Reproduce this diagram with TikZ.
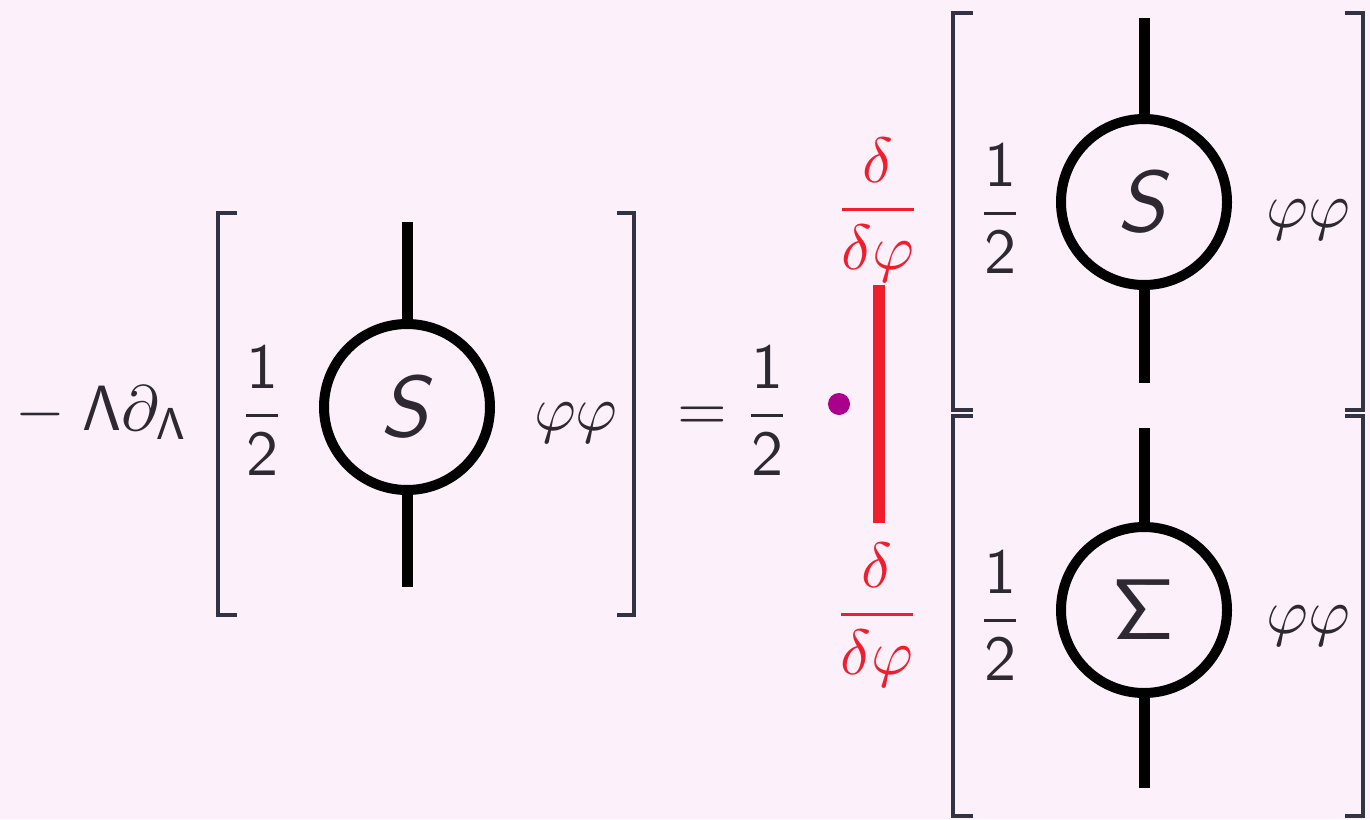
\documentclass[tikz,border=0pt]{standalone}
\usepackage{amsmath}
\definecolor{bgpink}{RGB}{252,240,251}
\definecolor{ink}{RGB}{45,40,50}
\definecolor{brk}{RGB}{50,50,70}
\definecolor{dred}{RGB}{240,30,45}
\definecolor{dmag}{RGB}{170,0,140}
\begin{document}
\begin{tikzpicture}[x=0.5pt,y=-0.5pt,
  lbl/.style={inner sep=0pt, text=ink, scale=3.2},
  redlbl/.style={inner sep=0pt, text=dred, scale=3.2},
  vtx/.style={circle, draw=black, line width=5pt, minimum size=83pt, inner sep=0pt, text=ink},
  leg/.style={line width=5.5pt, black},
  brkline/.style={line width=2pt, brk}]
\fill[bgpink] (0,0) rectangle (1370,819);
\useasboundingbox (0,0) rectangle (1370,819);

% ---------- left side ----------
\node[lbl, anchor=base west] (pre) at (14,430) {$-\mkern5mu\mathsf{\Lambda}\partial_{\mathsf{\Lambda}}$};
\draw[brkline] (237,213) -- (218,213) -- (218,615) -- (237,615);
\node[lbl] (hL) at (262,411) {$\dfrac{\mathsf{1}}{\mathsf{2}}$};
\node[vtx] (cL) at (407,407) {\scalebox{4.3}{\textsf{\itshape S}}};
\coordinate (cLt) at (407,222);
\coordinate (cLb) at (407,587);
\draw[leg] (cL.north) -- (cLt);
\draw[leg] (cL.south) -- (cLb);
\node[lbl, anchor=base] (ffL) at (576,430) {$\varphi\varphi$};
\draw[brkline] (617,213) -- (634,213) -- (634,615) -- (617,615);

\node[lbl, anchor=base] (eq) at (702,430) {$=$};
\node[lbl] (hM) at (767,411) {$\dfrac{\mathsf{1}}{\mathsf{2}}$};

% ---------- red operator ----------
\node[circle, fill=dmag, inner sep=0pt, minimum size=11pt] (dot) at (839,404) {};
\coordinate (rt) at (879,285);
\coordinate (rb) at (879,523);
\draw[line width=6pt, dred] (rt) -- (rb);
\node[redlbl] (dt) at (878,210) {$\dfrac{\delta}{\delta\varphi}$};
\node[redlbl] (db) at (877,615) {$\dfrac{\delta}{\delta\varphi}$};

% ---------- right top ----------
\draw[brkline] (973,13) -- (953,13) -- (953,410) -- (973,410);
\node[lbl] (hT) at (1000,209) {$\dfrac{\mathsf{1}}{\mathsf{2}}$};
\node[vtx] (cT) at (1144,202) {\scalebox{4.3}{\textsf{\itshape S}}};
\coordinate (cTt) at (1144,18);
\coordinate (cTb) at (1144,383);
\draw[leg] (cT.north) -- (cTt);
\draw[leg] (cT.south) -- (cTb);
\node[lbl, anchor=base] (ffT) at (1308,227) {$\varphi\varphi$};
\draw[brkline] (1345,13) -- (1363,13) -- (1363,410) -- (1345,410);

% ---------- right bottom ----------
\draw[brkline] (973,416) -- (953,416) -- (953,816) -- (973,816);
\node[lbl] (hB) at (1000,616) {$\dfrac{\mathsf{1}}{\mathsf{2}}$};
\node[vtx] (cB) at (1144,610) {\scalebox{4.3}{$\mathsf{\Sigma}$}};
\coordinate (cBt) at (1144,428);
\coordinate (cBb) at (1144,788);
\draw[leg] (cB.north) -- (cBt);
\draw[leg] (cB.south) -- (cBb);
\node[lbl, anchor=base] (ffB) at (1308,633) {$\varphi\varphi$};
\draw[brkline] (1345,416) -- (1363,416) -- (1363,816) -- (1345,816);
\end{tikzpicture}
\end{document}
